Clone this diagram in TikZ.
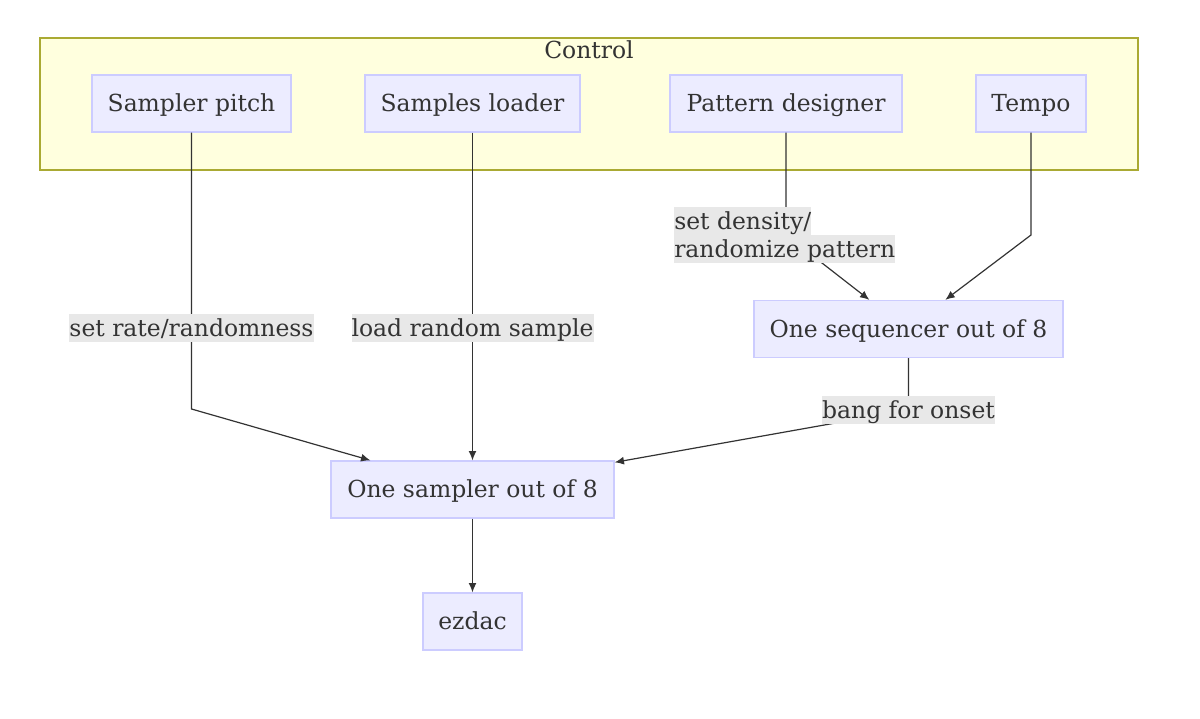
\documentclass[tikz,border=0pt]{standalone}
\usepackage{fontspec}
\setmainfont{DejaVu Serif}
\usetikzlibrary{arrows.meta,calc}
\definecolor{nodefill}{HTML}{ECECFF}
\definecolor{nodeline}{HTML}{CCCCFF}
\definecolor{clusterfill}{HTML}{FFFFDE}
\definecolor{clusterline}{HTML}{AAAA33}
\definecolor{ink}{HTML}{333333}
\definecolor{lblbg}{HTML}{E8E8E8}
\begin{document}
\begin{tikzpicture}[x=0.75pt,y=-0.75pt,
  txt/.style={text=ink, font=\fontsize{17.6}{21}\selectfont, text height=13.4pt, text depth=1.1pt},
  box/.style={txt, draw=nodeline, fill=nodefill, line width=1pt,
    minimum height=42.75pt, inner xsep=0pt, inner ysep=0pt},
  lbl/.style={txt, fill=lblbg, inner xsep=0pt, inner ysep=0pt, minimum height=21pt},
  link/.style={draw=ink, line width=0.9pt},
  arr/.style={link, -{Latex[length=7pt,width=6pt]}}]
\useasboundingbox (0,0) rectangle (1200,718);
% cluster
\draw[draw=clusterline, fill=clusterfill, line width=1pt] (40,38) rectangle (1138,170);
\node[txt] (ctitle) at (589,50) {Control};
% nodes
\node[box, minimum width=149.25pt] (pitch) at (191.5,103.5) {Sampler pitch};
\node[box, minimum width=161.25pt] (loader) at (472.5,103.5) {Samples loader};
\node[box, minimum width=174pt] (pattern) at (786,103.5) {Pattern designer};
\node[box, minimum width=82.5pt] (tempo) at (1031,103.5) {Tempo};
\node[box, minimum width=231.75pt] (seq) at (908.5,329) {One sequencer out of 8};
\node[box, minimum width=212.25pt] (sampler) at (472.5,489.5) {One sampler out of 8};
\node[box, minimum width=74.25pt] (dac) at (472.5,621.5) {ezdac};
% bend coordinates
\coordinate (b1) at (191.5,409);
\coordinate (l1) at (191.5,328);
\coordinate (l2) at (472.5,328);
\coordinate (b3) at (786,235);
\coordinate (b4) at (1031,235);
\coordinate (b5) at (908.5,410);
% edges
\draw[arr] (pitch.south) -- (b1) -- ([xshift=30pt]sampler.north west);
\draw[arr] (loader.south) -- (sampler.north);
\draw[arr] (pattern.south) -- (b3) -- ([xshift=87pt]seq.north west);
\draw[arr] (tempo.south) -- (b4) -- ([xshift=144pt]seq.north west);
\draw[arr] (seq.south) -- (b5) -- ([yshift=-1.5pt]sampler.north east);
\draw[arr] (sampler.south) -- (dac.north);
% labels
\node[lbl] (lrate) at (l1) {set rate/randomness};
\node[lbl] (lload) at (l2) {load random sample};
\node[lbl, anchor=west] (lpd1) at (674,221) {set density/};
\node[lbl, anchor=west] (lpd2) at (674,249) {randomize pattern};
\node[lbl] (lbang) at (b5) {bang for onset};
\end{tikzpicture}
\end{document}
